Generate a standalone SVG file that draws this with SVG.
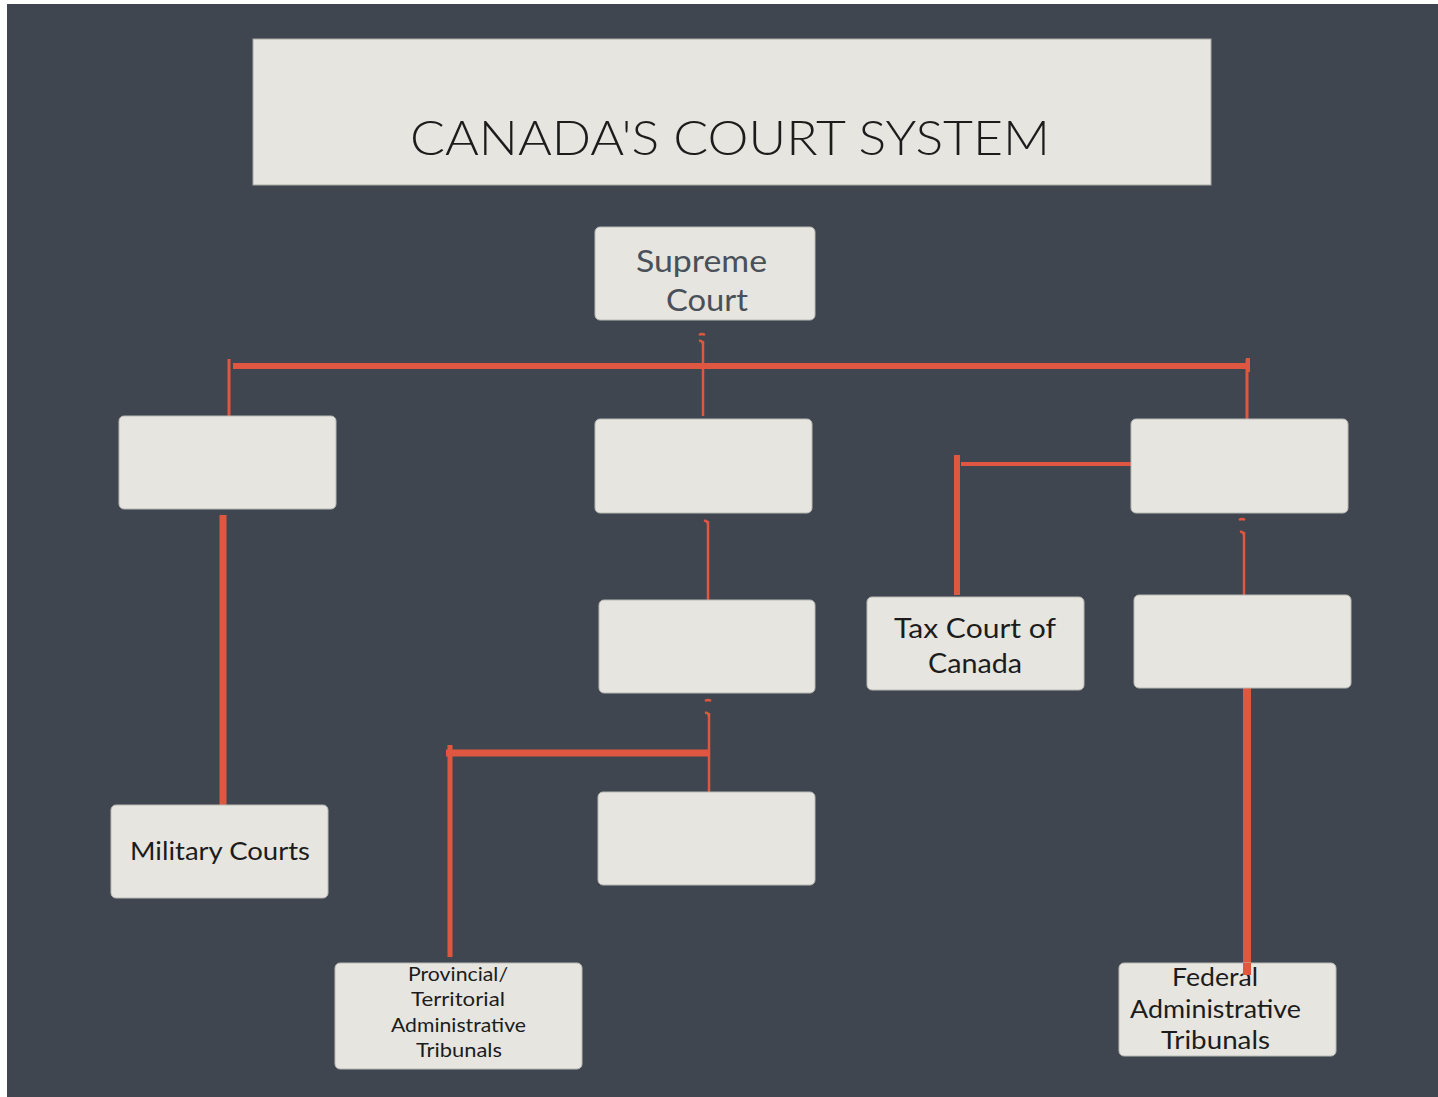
<svg xmlns="http://www.w3.org/2000/svg" width="1438" height="1097" viewBox="0 0 1438 1097">
<style>
.box{fill:#e6e5df;stroke:#b9b9b6;stroke-width:1}
.t{font-family:Lato,"Open Sans","Liberation Sans",sans-serif;text-anchor:middle;fill:#1c1c1c}
.ln{stroke:#df5641;fill:none;stroke-linecap:butt}
.hk{stroke:#df5641;fill:none;stroke-width:2.5}
</style>
<rect x="0" y="0" width="1438" height="1097" fill="#ffffff"/>
<rect x="7" y="4" width="1431" height="1093" fill="#40464f"/>
<g id="title">
<rect x="253" y="39" width="958" height="146" fill="#e6e5df" stroke="#a9aaa8" stroke-width="1"/>
<text class="t" x="730" y="155" font-size="48" textLength="640" lengthAdjust="spacingAndGlyphs" style="font-weight:300">CANADA'S COURT SYSTEM</text>
</g>
<g id="connectors">
<line class="ln" x1="233" y1="366" x2="1249" y2="366" stroke-width="6"/>
<line class="ln" x1="229" y1="359" x2="229" y2="419" stroke-width="3"/>
<line class="ln" x1="1248" y1="358" x2="1248" y2="372" stroke-width="4"/>
<line class="ln" x1="1247" y1="359" x2="1247" y2="419" stroke-width="3"/>
<path class="hk" d="M699 335 q3 -2 6 0 M699 341 q3 -1 4 3"/>
<line class="ln" x1="703" y1="341" x2="703" y2="416" stroke-width="2.5"/>
<line class="ln" x1="223" y1="515" x2="223" y2="806" stroke-width="7"/>
<path class="hk" d="M704 510 q3 -2 6 0 M704 521 q3 -1 4 3"/>
<line class="ln" x1="708" y1="521" x2="708" y2="600" stroke-width="2.5"/>
<path class="hk" d="M705 701 q3 -2 6 0 M705 713 q3 -1 4 3"/>
<line class="ln" x1="709" y1="713" x2="709" y2="792" stroke-width="2.5"/>
<line class="ln" x1="446" y1="753" x2="710" y2="753" stroke-width="7"/>
<line class="ln" x1="450" y1="745" x2="450" y2="957" stroke-width="5"/>
<line class="ln" x1="961" y1="464" x2="1131" y2="464" stroke-width="4"/>
<line class="ln" x1="957" y1="455" x2="957" y2="595" stroke-width="6"/>
<path class="hk" d="M1239 520 q3 -2 6 0 M1240 532 q3 -1 4 3"/>
<line class="ln" x1="1244" y1="532" x2="1244" y2="612" stroke-width="2.5"/>
<line class="ln" x1="1247" y1="683" x2="1247" y2="975" stroke-width="8"/>
<line class="ln" x1="1245" y1="684" x2="1253" y2="684" stroke-width="3"/>
</g>
<g id="supreme">
<rect class="box" x="595" y="227" width="220" height="93" rx="5"/>
<text class="t" x="701.5" y="272" font-size="30" textLength="131" lengthAdjust="spacingAndGlyphs" style="fill:#4a505a">Supreme</text>
<text class="t" x="707" y="311" font-size="30" textLength="82" lengthAdjust="spacingAndGlyphs" style="fill:#4a505a">Court</text>
</g>
<g id="box-left"><rect class="box" x="119" y="416" width="217" height="93" rx="5"/></g>
<g id="box-mid1"><rect class="box" x="595" y="419" width="217" height="94" rx="5"/></g>
<g id="box-right1"><rect class="box" x="1131" y="419" width="217" height="94" rx="5"/></g>
<g id="box-mid2"><rect class="box" x="599" y="600" width="216" height="93" rx="5"/></g>
<g id="tax">
<rect class="box" x="867" y="597" width="217" height="93" rx="5"/>
<text class="t" x="975" y="638" font-size="26" textLength="162" lengthAdjust="spacingAndGlyphs">Tax Court of</text>
<text class="t" x="975" y="673" font-size="26" textLength="94" lengthAdjust="spacingAndGlyphs">Canada</text>
</g>
<g id="box-right2"><rect class="box" x="1134" y="595" width="217" height="93" rx="5"/></g>
<g id="box-mid3"><rect class="box" x="598" y="792" width="217" height="93" rx="5"/></g>
<g id="military">
<rect class="box" x="111" y="805" width="217" height="93" rx="5"/>
<text class="t" x="220" y="860" font-size="25" textLength="180" lengthAdjust="spacingAndGlyphs">Military Courts</text>
</g>
<g id="provincial">
<rect class="box" x="335" y="963" width="247" height="106" rx="5"/>
<text class="t" x="458" y="981" font-size="19" textLength="100" lengthAdjust="spacingAndGlyphs">Provincial/</text>
<text class="t" x="458" y="1006" font-size="19" textLength="94" lengthAdjust="spacingAndGlyphs">Territorial</text>
<text class="t" x="458.5" y="1032" font-size="19" textLength="135" lengthAdjust="spacingAndGlyphs">Administrative</text>
<text class="t" x="459" y="1057" font-size="19" textLength="86" lengthAdjust="spacingAndGlyphs">Tribunals</text>
</g>
<g id="federal">
<rect class="box" x="1119" y="963" width="217" height="93" rx="5"/>
<text class="t" x="1215" y="986" font-size="25" textLength="86" lengthAdjust="spacingAndGlyphs">Federal</text>
<text class="t" x="1215.5" y="1018" font-size="25" textLength="171" lengthAdjust="spacingAndGlyphs">Administrative</text>
<text class="t" x="1215.5" y="1049" font-size="25" textLength="109" lengthAdjust="spacingAndGlyphs">Tribunals</text>
</g>
<line class="ln" x1="1247" y1="963" x2="1247" y2="975" stroke-width="8"/>
</svg>
